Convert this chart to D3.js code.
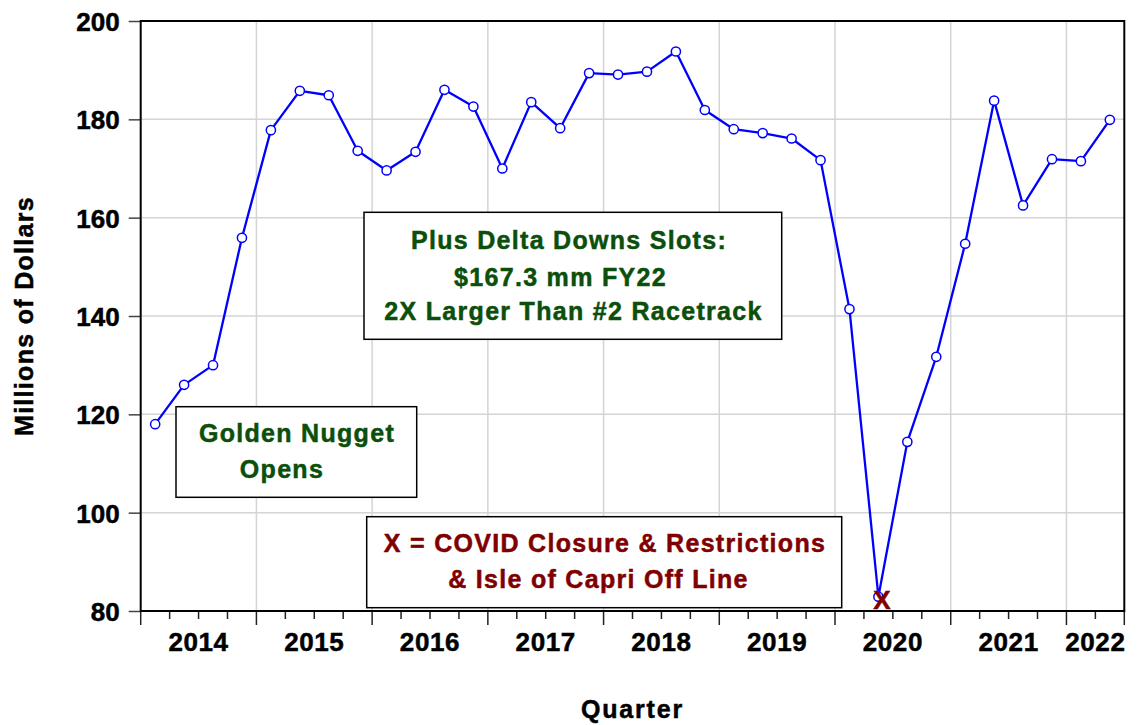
<!DOCTYPE html>
<html>
<head>
<meta charset="utf-8">
<script src="https://cdn.jsdelivr.net/npm/d3@7"></script>
<style>
  html, body { margin: 0; padding: 0; background: #fff; }
  svg { display: block; font-family: "Liberation Sans", Arial, sans-serif; font-weight: bold; }
  text { paint-order: stroke; stroke-width: 0.5px; }
</style>
</head>
<body>
<svg id="chart" width="1144" height="725"></svg>
<script>
// ---- Data ----
const quarters = [
  "2014Q1","2014Q2","2014Q3","2014Q4",
  "2015Q1","2015Q2","2015Q3","2015Q4",
  "2016Q1","2016Q2","2016Q3","2016Q4",
  "2017Q1","2017Q2","2017Q3","2017Q4",
  "2018Q1","2018Q2","2018Q3","2018Q4",
  "2019Q1","2019Q2","2019Q3","2019Q4",
  "2020Q1","2020Q2","2020Q3","2020Q4",
  "2021Q1","2021Q2","2021Q3","2021Q4",
  "2022Q1","2022Q2"
];
const slotRevenue = [
  118.0, 126.0, 130.0, 155.9,
  177.8, 185.8, 184.9, 173.6,
  169.6, 173.4, 186.0, 182.6,
  170.0, 183.5, 178.2, 189.4,
  189.1, 189.7, 193.8, 181.9,
  178.0, 177.2, 176.1, 171.7,
  141.4, 82.9, 114.4, 131.7,
  154.7, 183.8, 162.5, 171.9,
  171.5, 179.9
];
const yearLabels = ["2014","2015","2016","2017","2018","2019","2020","2021","2022"];
const yTicks = [80, 100, 120, 140, 160, 180, 200];
const covidQuarter = "2020Q2";
const covidMark = "X";
const noteNugget = ["Golden Nugget", "Opens"];
const noteDelta = ["Plus Delta Downs Slots:", "$167.3 mm FY22", "2X Larger Than #2 Racetrack"];
const noteCovid = ["X = COVID Closure & Restrictions", "& Isle of Capri Off Line"];
const xTitle = "Quarter";
const yTitle = "Millions of Dollars";

// ---- Layout ----
const svg = d3.select("#chart");
const L = 140.7, R = 1124.3, T = 21, B = 611;
const x = d3.scaleLinear().domain([0, quarters.length]).range([L, R]);
const y = d3.scaleLinear().domain([80, 200]).range([B, T]);
const green = "#0b4f0b", darkred = "#7f0000", blue = "#0000ff";

// gridlines
const g = svg.append("g");
g.selectAll(".hg").data(yTicks.slice(1, -1)).join("line")
  .attr("x1", L).attr("x2", R).attr("y1", d => y(d)).attr("y2", d => y(d))
  .attr("stroke", "#d4d4d4").attr("stroke-width", 1.5);
const yearStarts = d3.range(4, quarters.length, 4);
g.selectAll(".vg").data(yearStarts).join("line")
  .attr("x1", d => x(d)).attr("x2", d => x(d)).attr("y1", T).attr("y2", B)
  .attr("stroke", "#d4d4d4").attr("stroke-width", 1.5);

// y axis
const yAxis = d3.axisLeft(y).tickValues(yTicks).tickSize(12).tickPadding(9);
const ya = svg.append("g").attr("transform", `translate(${L},0)`).call(yAxis);
ya.select(".domain").remove();
ya.selectAll(".tick line").attr("stroke", "#444").attr("stroke-width", 1.5);
ya.selectAll(".tick text").attr("font-size", 26).attr("font-weight", "bold")
  .attr("font-family", "Liberation Sans, Arial, sans-serif").attr("fill", "#000")
  .attr("stroke", "#000").attr("dy", "0.36em");

// x axis: minor ticks every quarter, major at year boundaries
const xa = svg.append("g");
xa.selectAll(".mt").data(d3.range(0, quarters.length + 1)).join("line")
  .attr("x1", d => x(d)).attr("x2", d => x(d))
  .attr("y1", B).attr("y2", d => (d % 4 === 0 || d === quarters.length) ? B + 14 : B + 8)
  .attr("stroke", "#222").attr("stroke-width", 1.5);
xa.selectAll(".yl").data(yearLabels).join("text")
  .attr("x", (d, i) => x((i * 4 + Math.min(i * 4 + 4, quarters.length)) / 2))
  .attr("y", 651)
  .attr("text-anchor", "middle").attr("font-size", 26).attr("fill", "#000").attr("stroke", "#000")
  .attr("letter-spacing", 0.6)
  .text(d => d);

// plot frame
svg.append("rect").attr("x", L).attr("y", T).attr("width", R - L).attr("height", B - T)
  .attr("fill", "none").attr("stroke", "#000").attr("stroke-width", 2);

// axis titles
svg.append("text").attr("x", (L + R) / 2).attr("y", 718).attr("text-anchor", "middle")
  .attr("font-size", 25).attr("letter-spacing", 1.8).attr("fill", "#000").attr("stroke", "#000").text(xTitle);
svg.append("text").attr("transform", `translate(33,${(T + B) / 2}) rotate(-90)`)
  .attr("text-anchor", "middle").attr("font-size", 25).attr("letter-spacing", 1.3)
  .attr("fill", "#000").attr("stroke", "#000").text(yTitle);

// annotation boxes
function box(x0, y0, x1, y1, lines, color, positions) {
  svg.append("rect").attr("x", x0).attr("y", y0).attr("width", x1 - x0).attr("height", y1 - y0)
    .attr("fill", "#fff").attr("stroke", "#000").attr("stroke-width", 1.5);
  lines.forEach((t, i) => {
    svg.append("text").attr("x", positions[i][0]).attr("y", positions[i][1])
      .attr("text-anchor", "middle").attr("font-size", 25).attr("letter-spacing", 1.3)
      .attr("fill", color).attr("stroke", color).text(t);
  });
}
box(364, 212.3, 781.7, 339.3, noteDelta, green, [[569, 249], [560.5, 286], [573.5, 319.5]]);
box(176, 406.7, 416.7, 497.3, noteNugget, green, [[297, 442], [282, 477.7]]);
box(366.7, 516.7, 841.7, 607.7, noteCovid, darkred, [[605, 551.7], [598.5, 587.7]]);

// data line
const line = d3.line().x((d, i) => x(i + 0.5)).y(d => y(d));
svg.append("path").datum(slotRevenue).attr("d", line)
  .attr("fill", "none").attr("stroke", blue).attr("stroke-width", 2.3).attr("stroke-linejoin", "round");
svg.selectAll(".pt").data(slotRevenue).join("circle")
  .attr("cx", (d, i) => x(i + 0.5)).attr("cy", d => y(d)).attr("r", 4.6)
  .attr("fill", "#fff").attr("stroke", blue).attr("stroke-width", 1.5);

// covid marker
const ci = quarters.indexOf(covidQuarter);
svg.append("text").attr("x", x(ci + 0.5) + 3.5).attr("y", 608.5).attr("text-anchor", "middle")
  .attr("font-size", 26).attr("fill", darkred).attr("stroke", darkred).text(covidMark);
</script>
</body>
</html>
